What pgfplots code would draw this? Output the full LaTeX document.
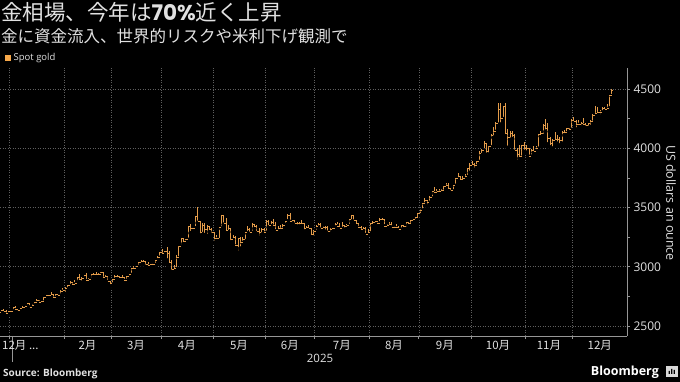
\documentclass[border=0pt]{standalone}
\usepackage{pgfplots}
\usepackage{pgfplotstable}
\pgfplotsset{compat=1.18}
\usepackage{fontspec}
\setmainfont{Open Sans}
\newfontfamily\cjk{Noto Sans CJK JP}
\newfontfamily\pop{Poppins}
\definecolor{goldc}{RGB}{228,156,74}
\definecolor{legc}{RGB}{247,168,74}
\definecolor{gridc}{RGB}{95,95,95}
\definecolor{axc}{RGB}{150,150,150}
\definecolor{txt}{RGB}{225,225,225}
\pgfdeclareplotmark{ohlcopen}{\pgfpathmoveto{\pgfqpoint{-1.2pt}{0pt}}\pgfpathlineto{\pgfqpoint{0pt}{0pt}}\pgfusepathqstroke}
\pgfdeclareplotmark{ohlcclose}{\pgfpathmoveto{\pgfqpoint{0pt}{0pt}}\pgfpathlineto{\pgfqpoint{1.2pt}{0pt}}\pgfusepathqstroke}
\pgfplotstableread{
x o h l c
-4 2617 2638 2614 2634
-3 2634 2640 2616 2621
-2 2621 2633 2597 2606
-1 2606 2630 2600 2624
0 2624 2630 2620 2625
1 2625 2662 2623 2658
2 2658 2665 2634 2640
3 2640 2645 2614 2636
4 2636 2654 2630 2648
5 2648 2670 2642 2662
6 2662 2675 2656 2670
7 2670 2697 2665 2690
8 2690 2692 2657 2662
9 2662 2682 2658 2677
10 2677 2702 2672 2697
11 2697 2724 2693 2714
12 2714 2716 2696 2703
13 2703 2712 2688 2708
14 2708 2747 2698 2745
15 2745 2763 2741 2755
16 2755 2759 2742 2755
17 2755 2786 2751 2770
18 2770 2772 2730 2740
19 2740 2768 2737 2764
20 2764 2770 2750 2760
21 2760 2800 2757 2794
22 2794 2817 2788 2798
23 2798 2830 2772 2815
24 2815 2845 2810 2842
25 2842 2882 2840 2867
26 2867 2870 2834 2856
27 2856 2887 2852 2861
28 2861 2911 2860 2908
29 2908 2942 2880 2897
30 2897 2910 2865 2904
31 2904 2932 2903 2928
32 2928 2944 2878 2882
33 2882 2903 2880 2898
34 2898 2937 2892 2935
35 2935 2947 2918 2933
36 2933 2954 2922 2939
37 2939 2947 2918 2936
38 2936 2956 2930 2951
39 2951 2953 2890 2915
40 2915 2928 2905 2916
41 2916 2920 2872 2875
42 2875 2880 2832 2858
43 2858 2898 2850 2893
44 2893 2927 2890 2918
45 2918 2930 2894 2919
46 2919 2926 2896 2911
47 2911 2930 2897 2910
48 2910 2914 2880 2889
49 2889 2920 2881 2916
50 2916 2940 2906 2933
51 2933 2990 2931 2988
52 2988 3005 2974 2984
53 2984 3004 2982 3001
54 3001 3038 2999 3035
55 3035 3057 3025 3048
56 3048 3058 3024 3044
57 3044 3047 2999 3023
58 3023 3036 3001 3011
59 3011 3025 3007 3020
60 3020 3033 3012 3018
61 3018 3060 3016 3058
62 3058 3087 3055 3084
63 3084 3128 3076 3124
64 3124 3149 3100 3112
65 3112 3136 3106 3134
66 3134 3168 3055 3114
67 3114 3136 3015 3037
68 3037 3055 2957 2982
69 2982 3018 2970 2983
70 2983 3099 2979 3083
71 3083 3175 3072 3175
72 3175 3245 3170 3237
73 3237 3245 3194 3211
74 3211 3232 3205 3230
75 3230 3345 3228 3343
76 3343 3357 3284 3327
77 3327 3330 3320 3327
78 3327 3430 3325 3424
79 3424 3500 3370 3381
80 3381 3386 3260 3288
81 3288 3368 3276 3349
82 3349 3370 3268 3319
83 3319 3350 3261 3344
84 3344 3345 3295 3317
85 3317 3327 3268 3289
86 3289 3292 3202 3239
87 3239 3269 3229 3241
88 3241 3336 3225 3333
89 3333 3437 3323 3431
90 3431 3435 3355 3366
91 3366 3414 3290 3305
92 3305 3349 3293 3325
93 3325 3326 3208 3235
94 3235 3265 3228 3249
95 3249 3256 3170 3178
96 3178 3245 3121 3240
97 3240 3252 3154 3204
98 3204 3250 3200 3230
99 3230 3295 3218 3290
100 3290 3345 3284 3315
101 3315 3325 3278 3295
102 3295 3366 3287 3357
103 3357 3358 3322 3342
104 3342 3350 3285 3301
105 3301 3325 3245 3290
106 3290 3330 3271 3317
107 3317 3325 3271 3289
108 3289 3392 3287 3381
109 3381 3392 3333 3353
110 3353 3385 3344 3373
111 3373 3404 3338 3352
112 3352 3376 3300 3310
113 3310 3341 3294 3325
114 3325 3350 3311 3322
115 3322 3361 3314 3354
116 3354 3390 3353 3386
117 3386 3447 3384 3433
118 3433 3451 3380 3384
119 3384 3396 3366 3388
120 3388 3393 3355 3370
121 3370 3378 3340 3369
122 3369 3375 3340 3368
123 3368 3398 3347 3368
124 3368 3369 3295 3323
125 3323 3342 3312 3333
126 3333 3350 3318 3327
127 3327 3328 3255 3274
128 3274 3306 3247 3303
129 3303 3350 3296 3338
130 3338 3365 3331 3357
131 3357 3365 3311 3326
132 3326 3345 3323 3337
133 3337 3343 3296 3335
134 3335 3346 3287 3301
135 3301 3325 3282 3313
136 3313 3330 3310 3324
137 3324 3369 3322 3355
138 3355 3375 3341 3343
139 3343 3366 3320 3324
140 3324 3377 3320 3347
141 3347 3352 3310 3338
142 3338 3360 3332 3350
143 3350 3402 3345 3397
144 3397 3433 3383 3431
145 3431 3439 3381 3388
146 3388 3393 3351 3368
147 3368 3373 3325 3337
148 3337 3345 3301 3314
149 3314 3334 3308 3326
150 3326 3334 3268 3274
151 3274 3315 3270 3289
152 3289 3363 3281 3363
153 3363 3385 3345 3373
154 3373 3390 3358 3380
155 3380 3390 3358 3368
156 3368 3409 3365 3397
157 3397 3409 3380 3398
158 3398 3400 3340 3342
159 3342 3358 3331 3348
160 3348 3375 3345 3356
161 3356 3374 3330 3335
162 3335 3347 3324 3336
163 3336 3358 3323 3332
164 3332 3345 3312 3315
165 3315 3350 3311 3348
166 3348 3351 3322 3339
167 3339 3378 3321 3372
168 3372 3378 3351 3365
169 3365 3394 3352 3393
170 3393 3398 3376 3397
171 3397 3423 3385 3416
172 3416 3454 3402 3448
173 3448 3490 3436 3477
174 3477 3540 3475 3533
175 3533 3578 3525 3560
176 3560 3564 3511 3545
177 3545 3600 3540 3587
178 3587 3637 3578 3636
179 3636 3674 3620 3626
180 3626 3658 3621 3640
181 3640 3653 3613 3634
182 3634 3655 3632 3643
183 3643 3685 3633 3679
184 3679 3703 3675 3690
185 3690 3707 3645 3660
186 3660 3665 3628 3644
187 3644 3690 3637 3685
188 3685 3749 3683 3746
189 3746 3791 3740 3764
190 3764 3769 3718 3736
191 3736 3762 3722 3749
192 3749 3780 3737 3760
193 3760 3834 3757 3833
194 3833 3872 3793 3859
195 3859 3895 3842 3866
196 3866 3875 3819 3857
197 3857 3890 3846 3887
198 3887 3975 3885 3961
199 3961 3990 3942 3985
200 3985 4060 3982 4040
201 4040 4045 3945 3975
202 3975 4022 3947 4018
203 4018 4116 4010 4110
204 4110 4180 4090 4142
205 4142 4218 4138 4209
206 4209 4380 4200 4326
207 4326 4381 4200 4251
208 4251 4358 4248 4356
209 4356 4380 4105 4125
210 4125 4162 4004 4094
211 4094 4143 4072 4126
212 4126 4147 4078 4113
213 4113 4116 3970 3981
214 3981 3999 3886 3952
215 3952 4030 3915 3930
216 3930 4030 3920 4025
217 4025 4050 3970 4002
218 4002 4030 3963 4000
219 4000 4003 3929 3932
220 3932 3995 3930 3980
221 3980 4019 3964 3977
222 3977 4023 3972 4001
223 4001 4118 3996 4115
224 4115 4149 4100 4128
225 4128 4201 4104 4194
226 4194 4245 4140 4171
227 4171 4211 4032 4084
228 4084 4095 4009 4045
229 4045 4075 3997 4067
230 4067 4133 4060 4077
231 4077 4110 4039 4077
232 4077 4097 4022 4065
233 4065 4142 4040 4136
234 4136 4155 4110 4132
235 4132 4170 4125 4165
236 4165 4167 4140 4156
237 4156 4249 4155 4239
238 4239 4264 4220 4230
239 4230 4238 4160 4206
240 4206 4240 4197 4203
241 4203 4220 4173 4208
242 4208 4259 4191 4198
243 4198 4215 4172 4190
244 4190 4217 4170 4208
245 4208 4240 4180 4228
246 4228 4286 4215 4280
247 4280 4353 4271 4299
248 4299 4349 4288 4304
249 4304 4320 4271 4303
250 4303 4345 4300 4338
251 4338 4347 4313 4332
252 4332 4375 4323 4340
253 4340 4448 4338 4444
254 4444 4497 4440 4490
}\gold
\begin{document}
\begin{tikzpicture}[x=1pt,y=1pt]
\fill[black] (0,0) rectangle (680,382);
\useasboundingbox (0,0) rectangle (680,382);
\begin{axis}[
  at={(0pt,46pt)}, anchor=south west,
  scale only axis, width=627pt, height=268pt,
  xmin=-4.5, xmax=260.5, ymin=2415.6, ymax=4677,
  axis x line*=bottom, axis y line*=right,
  axis line style={axc, line width=0.6pt},
  tick align=outside, major tick length=3pt, minor tick length=3pt,
  tick style={axc, line width=0.6pt},
  xtick={-0.5,22.5,42.5,63.5,85.5,107.5,128.5,151.5,172.5,194.5,217.5,237.5},
  xticklabels={},
  extra x ticks={32.5,53,74.5,96.5,118,140,162,183.5,206,227.5,249},
  extra x tick labels={2月,3月,4月,5月,6月,7月,8月,9月,10月,11月,12月},
  extra x tick style={major tick length=0pt, grid=none,
     tick label style={font=\cjk\fontsize{11.5}{12}\selectfont, text=txt, yshift=-1pt}},
  ytick={2500,3000,3500,4000,4500},
  minor ytick={2750,3250,3750,4250},
  yticklabel style={font=\fontsize{12}{12}\selectfont, text=txt, xshift=0pt},
  /pgf/number format/assume math mode=true,
  /pgf/number format/1000 sep={},
  grid=major,
  major grid style={gridc, line width=0.5pt, dash pattern=on 1pt off 1.5pt},
  clip=true,
]
\addplot[only marks, mark=none, forget plot,
  error bars/.cd, y dir=plus, y explicit, error mark=none,
  error bar style={draw=goldc, line width=0.55pt}]
  table[x=x, y=l, y error expr=\thisrow{h}-\thisrow{l}] {\gold};
\addplot[only marks, mark=ohlcopen, mark options={draw=goldc, line width=0.55pt}] table[x=x, y=o] {\gold};
\addplot[only marks, mark=ohlcclose, mark options={draw=goldc, line width=0.55pt}] table[x=x, y=c] {\gold};
\end{axis}
% year tick and labels
\draw[axc, line width=0.6pt] (12,46) -- (12,20);
\node[anchor=west, text=txt, font=\cjk\fontsize{11.5}{12}\selectfont, inner sep=0pt] at (2,37) {12月 ...};
\node[text=txt, font=\fontsize{11.5}{12}\selectfont, inner sep=0pt] at (320,24) {2025};
\node[text=txt, font=\fontsize{12.5}{13}\selectfont, rotate=-90, inner sep=0pt] at (671,179) {US dollars an ounce};
% titles
\node[anchor=base west, text=txt, inner sep=0pt] at (1,361.5) {\cjk\fontsize{21.5}{22}\selectfont 金相場、今年は{\pop\bfseries 70\%}近く上昇};
\node[anchor=base west, text=txt, inner sep=0pt] at (1,339) {\cjk\fontsize{16.5}{17}\selectfont 金に資金流入、世界的リスクや米利下げ観測で};
\fill[legc] (5,321) rectangle (11,327);
\node[anchor=west, text=txt, inner sep=0pt, font=\fontsize{9.5}{10}\selectfont] at (13.5,324) {Spot gold};
% footer
\node[anchor=west, text=txt, inner sep=0pt, font=\bfseries\fontsize{10}{10}\selectfont] at (3,8) {Source: Bloomberg};
\node[anchor=east, text=white, inner sep=0pt, font=\bfseries\fontsize{12.5}{13}\selectfont] at (659,10) {Bloomberg};
\fill[white!85!black] (666,5) rectangle (678,16);
\fill[black] (668.5,8) rectangle (669.8,11) (671,8) rectangle (672.3,13) (673.5,8) rectangle (674.8,12);
\end{tikzpicture}
\end{document}
